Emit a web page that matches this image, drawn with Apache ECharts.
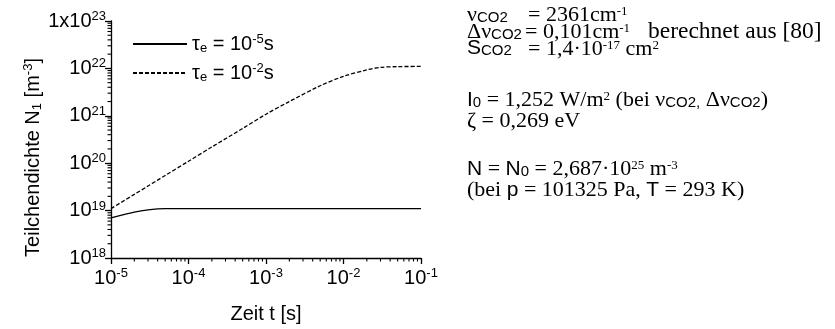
<!DOCTYPE html>
<html><head><meta charset="utf-8">
<script src="https://cdn.jsdelivr.net/npm/echarts@6/dist/echarts.min.js"></script>
<style>html,body{margin:0;padding:0;background:#fff}#c{width:835px;height:329px}</style>
</head><body><div id="c"></div>
<script>
// ---- data ----
var timeS = [1e-5, 1.5e-5, 2e-5, 3e-5, 4e-5, 5e-5, 1e-4, 2e-4, 5e-4, 1e-3, 2e-3, 5e-3, 1e-2, 2e-2, 3e-2, 5e-2, 1e-1];
var densityTau5 = [7.0e18, 8.3e18, 9.3e18, 1.04e19, 1.09e19, 1.1e19, 1.1e19, 1.1e19, 1.1e19, 1.1e19, 1.1e19, 1.1e19, 1.1e19, 1.1e19, 1.1e19, 1.1e19, 1.1e19];
var densityTau2 = [1.1e19, 1.65e19, 2.2e19, 3.3e19, 4.4e19, 5.5e19, 1.1e20, 2.2e20, 5.4e20, 1.08e21, 2.0e21, 4.3e21, 6.8e21, 9.3e21, 1.05e22, 1.09e22, 1.1e22];
var seriesNames = ['tau5', 'tau2'];
var xTickExp = [-5, -4, -3, -2, -1];
var yTickExp = [18, 19, 20, 21, 22, 23];
var minorMult = [2, 3, 4, 5, 6, 7, 8, 9];

var xMinor = [], yMinor = [];
for (var i = 0; i < xTickExp.length - 1; i++) minorMult.forEach(function (m) { xMinor.push([m * Math.pow(10, xTickExp[i]), 1e18]); });
for (var j = 0; j < yTickExp.length - 1; j++) minorMult.forEach(function (m) { yMinor.push([1e-5, m * Math.pow(10, yTickExp[j])]); });

var SANS = 'Liberation Sans';
var SERIF = 'Liberation Serif';
var rich = {
  n: { fontFamily: SANS, fontSize: 20, lineHeight: 22, color: '#000' },
  sup: { fontFamily: SANS, fontSize: 13, lineHeight: 12, verticalAlign: 'top', color: '#000' },
  sub: { fontFamily: SANS, fontSize: 13, lineHeight: 12, verticalAlign: 'bottom', color: '#000' }
};
var srich = {
  s: { fontFamily: SERIF, fontSize: 22, lineHeight: 20, color: '#000' },
  b: { fontFamily: SERIF, fontSize: 23.5, lineHeight: 20, color: '#000' },
  ss: { fontFamily: SANS, fontSize: 21, lineHeight: 20, color: '#000' },
  sb: { fontFamily: SANS, fontSize: 15, lineHeight: 12, verticalAlign: 'bottom', color: '#000' },
  sp: { fontFamily: SERIF, fontSize: 13, lineHeight: 12, verticalAlign: 'top', color: '#000' }
};
function txt(x, y, t) {
  return { type: 'text', left: x, top: y, style: { text: t, rich: srich, fill: '#000' } };
}

var chart = echarts.init(document.getElementById('c'), null, { renderer: 'canvas' });
chart.setOption({
  animation: false,
  grid: { left: 111, top: 21, width: 310, height: 240, containLabel: false },
  legend: {
    orient: 'vertical', left: 127, top: 28, itemWidth: 54, itemHeight: 14, itemGap: 7,
    data: seriesNames,
    itemStyle: { opacity: 0 },
    formatter: function (name) {
      return name === 'tau5' ? '{n|τ}{sub|e}{n| = 10}{sup|-5}{n|s}' : '{n|τ}{sub|e}{n| = 10}{sup|-2}{n|s}';
    },
    textStyle: { rich: rich }
  },
  xAxis: {
    type: 'log', logBase: 10, min: 1e-5, max: 1e-1,
    name: 'Zeit t [s]', nameLocation: 'middle', nameGap: 46,
    nameTextStyle: { fontFamily: SANS, fontSize: 20, color: '#000' },
    axisLine: { show: true, lineStyle: { color: '#000', width: 1.3 } },
    axisTick: { show: true, inside: false, length: 6, lineStyle: { color: '#000', width: 1.3 } },
    splitLine: { show: false },
    axisLabel: {
      show: true, margin: 9,
      formatter: function (v) { return '{n|10}{sup|' + Math.round(Math.log10(v)) + '}'; },
      rich: rich
    }
  },
  yAxis: {
    type: 'log', logBase: 10, min: 1e18, max: 1e23,
    name: '{n|Teilchendichte N}{sub|1}{n| [m}{sup|-3}{n|]}', nameLocation: 'middle', nameGap: 66, nameRotate: 90,
    nameTextStyle: { rich: rich, padding: [0, 36, 0, 0] },
    axisLine: { show: true, lineStyle: { color: '#000', width: 1.3 } },
    axisTick: { show: true, inside: false, length: 6, lineStyle: { color: '#000', width: 1.3 } },
    splitLine: { show: false },
    axisLabel: {
      show: true, margin: 5,
      formatter: function (v) {
        var e = Math.round(Math.log10(v));
        return e === 23 ? '{n|1x10}{sup|23}' : '{n|10}{sup|' + e + '}';
      },
      rich: rich
    }
  },
  series: [
    {
      name: 'tau5', type: 'line', symbol: 'none', showSymbol: false, smooth: 0.3,
      data: timeS.map(function (t, k) { return [t, densityTau5[k]]; }),
      lineStyle: { color: '#000', width: 1.3, type: 'solid' }, itemStyle: { color: '#000' }
    },
    {
      name: 'tau2', type: 'line', symbol: 'none', showSymbol: false, smooth: 0.3,
      data: timeS.map(function (t, k) { return [t, densityTau2[k]]; }),
      lineStyle: { color: '#000', width: 1.3, type: [4, 2] }, itemStyle: { color: '#000' }
    },
    {
      type: 'custom', silent: true, clip: false, data: xMinor, z: 10,
      renderItem: function (p, api) {
        var pt = api.coord([api.value(0), api.value(1)]);
        return { type: 'line', shape: { x1: pt[0], y1: pt[1], x2: pt[0], y2: pt[1] + 3.5 }, style: { stroke: '#000', lineWidth: 1.1 } };
      }
    },
    {
      type: 'custom', silent: true, clip: false, data: yMinor, z: 10,
      renderItem: function (p, api) {
        var pt = api.coord([api.value(0), api.value(1)]);
        return { type: 'line', shape: { x1: pt[0] - 3.5, y1: pt[1], x2: pt[0], y2: pt[1] }, style: { stroke: '#000', lineWidth: 1.1 } };
      }
    }
  ],
  graphic: [
    txt(467, 4, '{s|ν}{sb|CO2}'), txt(528, 4, '{s|= 2361cm}{sp|-1}'),
    txt(467, 21, '{s|Δν}{sb|CO2}'), txt(525, 21, '{s|= 0,101cm}{sp|-1}'), txt(648, 20, '{b|berechnet aus [80]}'),
    txt(467, 38, '{ss|S}{sb|CO2}'), txt(528, 38, '{s|= 1,4·10}{sp|-17}{s| cm}{sp|2}'),
    txt(467, 89, '{ss|I}{sb|0}{s| = 1,252 W/m}{sp|2}{s| (bei ν}{sb|CO2,}{s| Δν}{sb|CO2}{s|)}'),
    txt(467, 110, '{s|ζ = 0,269 eV}'),
    txt(467, 158, '{ss|N}{s| = }{ss|N}{sb|0}{s| = 2,687·10}{sp|25}{s| m}{sp|-3}'),
    txt(467, 179, '{s|(bei }{ss|p}{s| = 101325 Pa, }{ss|T}{s| = 293 K)}')
  ]
});
</script></body></html>
